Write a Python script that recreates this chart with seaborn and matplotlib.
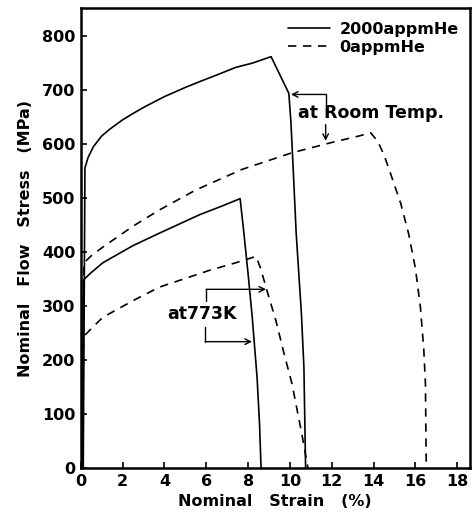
import matplotlib
matplotlib.use("Agg")
import matplotlib.pyplot as plt
import seaborn as sns
import pandas as pd

# ---- data ----
rt_2000_strain = [0.0, 0.12, 0.2, 0.35, 0.6, 1.0, 1.4, 2.0, 2.6, 3.1, 4.0, 5.0, 5.7, 6.5, 7.4, 8.2, 9.1, 9.5, 9.95, 10.05, 10.15, 10.3, 10.55, 10.67, 10.75]
rt_2000_stress = [0, 0, 556, 575, 595, 615, 628, 645, 659, 670, 688, 705, 716, 728, 742, 750, 762, 730, 694, 640, 560, 435, 286, 186, 0]

rt_0_strain = [0.0, 0.1, 0.15, 0.5, 1.05, 2.5, 3.76, 5.5, 7.7, 10.1, 12.0, 13.3, 13.86, 14.2, 14.5, 14.86, 15.3, 15.67, 16.0, 16.24, 16.4, 16.48, 16.52]
rt_0_stress = [0, 0, 380, 393, 409, 448, 478, 515, 553, 584, 603, 615, 621, 605, 580, 540, 490, 435, 370, 298, 220, 156, 0]

k773_2000_strain = [0.0, 0.08, 0.12, 0.5, 1.05, 2.5, 3.76, 5.67, 6.8, 7.62, 7.8, 8.0, 8.2, 8.43, 8.55, 8.62]
k773_2000_stress = [0, 0, 348, 362, 380, 412, 435, 469, 486, 499, 435, 360, 279, 168, 80, 0]

k773_0_strain = [0.0, 0.05, 0.1, 0.5, 1.05, 2.5, 3.76, 6.14, 7.4, 8.38, 8.6, 8.9, 9.33, 9.7, 10.1, 10.57, 10.86]
k773_0_stress = [0, 0, 242, 258, 279, 310, 335, 366, 380, 392, 370, 329, 273, 215, 156, 63, 0]

he_labels = ["2000appmHe", "0appmHe"]
x_ticks = [0, 2, 4, 6, 8, 10, 12, 14, 16, 18]
y_ticks = [0, 100, 200, 300, 400, 500, 600, 700, 800]

frames = []
for s, v, he, t in [
    (rt_2000_strain, rt_2000_stress, he_labels[0], "RT"),
    (rt_0_strain, rt_0_stress, he_labels[1], "RT"),
    (k773_2000_strain, k773_2000_stress, he_labels[0], "773K"),
    (k773_0_strain, k773_0_stress, he_labels[1], "773K"),
]:
    frames.append(pd.DataFrame({"strain": s, "stress": v, "He": he, "curve": he + t}))
df = pd.concat(frames, ignore_index=True)

sns.set_style("ticks")
plt.rcParams["font.family"] = ["DejaVu Sans"]
plt.rcParams["text.color"] = "black"
plt.rcParams["axes.labelcolor"] = "black"
plt.rcParams["xtick.color"] = "black"
plt.rcParams["ytick.color"] = "black"

fig = plt.figure(figsize=(4.75, 5.22), dpi=100)
ax = fig.add_axes([0.170, 0.1035, 0.819, 0.881])

sns.lineplot(data=df, x="strain", y="stress", style="He", units="curve",
             estimator=None, sort=False, color="black", linewidth=1.2,
             style_order=he_labels,
             dashes={he_labels[0]: "", he_labels[1]: (5, 4)}, ax=ax)

ax.set_xlim(0, 18.6)
ax.set_ylim(0, 852)
ax.set_xticks(x_ticks)
ax.set_yticks(y_ticks)
ax.tick_params(direction="in", length=4, width=1.2, labelsize=11.5, pad=4,
               colors="black")
for lab in ax.get_xticklabels() + ax.get_yticklabels():
    lab.set_fontweight("bold")
for sp in ax.spines.values():
    sp.set_visible(True)
    sp.set_linewidth(1.8)
    sp.set_color("black")

ax.set_xlabel("Nominal   Strain   (%)", fontsize=11.5, fontweight="bold", labelpad=4,
              color="black")
ax.set_ylabel("Nominal   Flow   Stress   (MPa)", fontsize=11.5, fontweight="bold",
              labelpad=6, color="black")

leg = ax.legend(loc="upper right", frameon=False, fontsize=11.5, handlelength=2.6,
                handletextpad=0.6, labelspacing=0.2, borderaxespad=0.3,
                bbox_to_anchor=(1.0, 0.995))
for t in leg.get_texts():
    t.set_fontweight("bold")
    t.set_color("black")

# annotations
arrow = dict(arrowstyle="->", color="black", lw=1.0, shrinkA=0, shrinkB=0)
ax.text(13.9, 657, "at Room Temp.", ha="center", va="center", fontsize=12.5,
        fontweight="bold", color="black")
ax.plot([11.71, 11.71], [675, 692], color="black", lw=1.0)
ax.annotate("", xy=(10.05, 692), xytext=(11.71, 692), arrowprops=arrow)
ax.annotate("", xy=(11.71, 606), xytext=(11.71, 636), arrowprops=arrow)

ax.text(5.8, 285, "at773K", ha="center", va="center", fontsize=12.5,
        fontweight="bold", color="black")
ax.plot([6.0, 6.0], [309, 331], color="black", lw=1.0)
ax.annotate("", xy=(8.86, 331), xytext=(6.0, 331), arrowprops=arrow)
ax.plot([5.95, 5.95], [262, 234], color="black", lw=1.0)
ax.annotate("", xy=(8.19, 234), xytext=(5.95, 234), arrowprops=arrow)

fig.savefig("out.png", dpi=100)
